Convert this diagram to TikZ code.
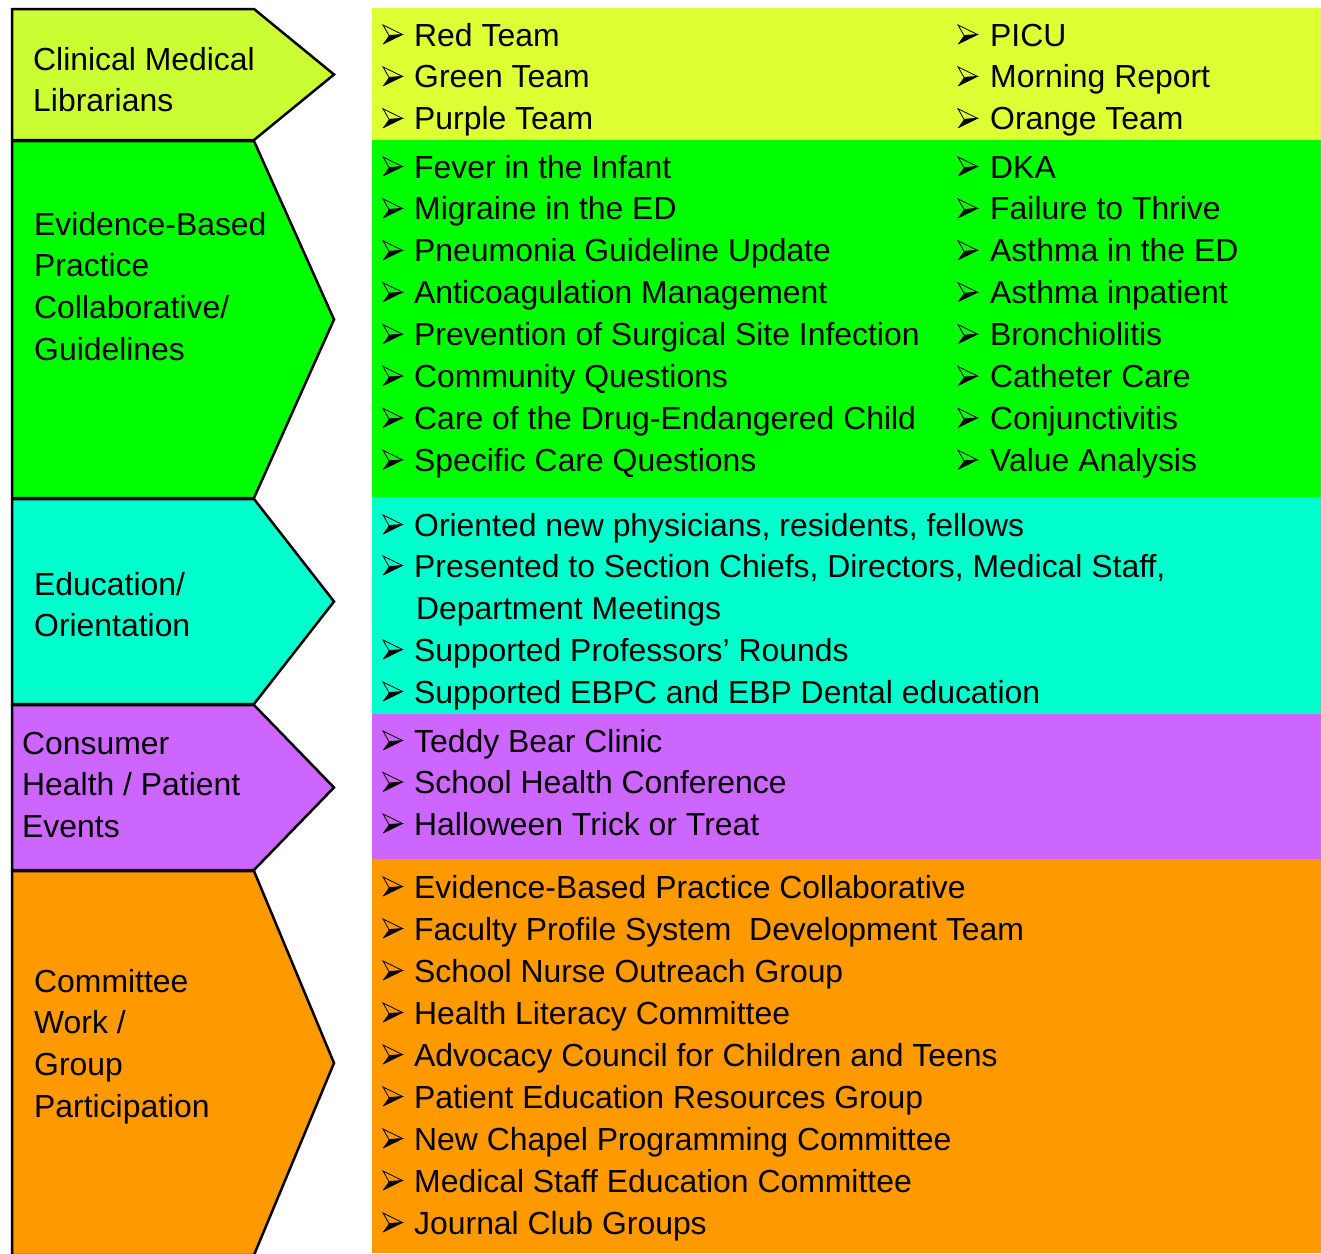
\documentclass[tikz,border=0pt]{standalone}
\usepackage{fontspec}
\setmainfont{Liberation Sans}
\usetikzlibrary{positioning}
\definecolor{limechev}{HTML}{CCFF33}
\definecolor{limebox}{HTML}{DDFF33}
\definecolor{grn}{HTML}{00FF00}
\definecolor{aqua}{HTML}{00FFCC}
\definecolor{lilac}{HTML}{CC66FF}
\definecolor{amber}{HTML}{FF9900}
\newcommand{\lblfont}{\fontsize{31.9}{42}\selectfont}

\begin{document}
\begin{tikzpicture}[x=1pt,y=-1pt,
    chev/.style={draw=black,line width=2.5pt,line join=miter},
    lbl/.style={anchor=base west,inner sep=0pt,font=\lblfont},
    item/.style={anchor=base west,inner sep=0pt,font=\lblfont},
    arrowhd/.pic={
      \fill (0,9.5) -- (19.5,0) -- (6,1) -- cycle;
      \draw[line width=0.8pt,line join=miter] (0,-9.5) -- (19.5,0) -- (6,1) -- cycle;
      \draw[line width=0.8pt,line join=miter] (0,9.5) -- (19.5,0);}]
  \useasboundingbox (0,0) rectangle (1321,1253);
  % chevrons on the left
  \foreach \top/\bot/\col in {9/140/limechev,141/498/grn,499/704/aqua,705/870/lilac,871/1255/amber}
    \draw[chev,fill=\col] (12,\top) -- (254,\top) -- (334,{(\top+\bot)/2})
      -- (254,\bot) -- (12,\bot) -- cycle;
  % panels on the right
  \fill[limebox] (372,8) rectangle (1321,140);
  \fill[grn] (372,140) rectangle (1321,497);
  \fill[aqua] (372,497) rectangle (1321,714);
  \fill[lilac] (372,714) rectangle (1321,859);
  \fill[amber] (372,859) rectangle (1321,1253);
  % chevron labels
  \foreach \t [count=\i] in {Clinical Medical,Librarians}
    \node[lbl] (cml\i) at (33,{70+41*(\i-1)}) {\t};
  \foreach \t [count=\i] in {Evidence-Based,Practice,Collaborative/,Guidelines}
    \node[lbl] (ebp\i) at (34,{235+41.9*(\i-1)}) {\t};
  \foreach \t [count=\i] in {Education/,Orientation}
    \node[lbl] (edu\i) at (34,{595+41.9*(\i-1)}) {\t};
  \foreach \t [count=\i] in {Consumer,Health / Patient,Events}
    \node[lbl] (chp\i) at (22,{754+41.9*(\i-1)}) {\t};
  \foreach \t [count=\i] in {Committee,Work /,Group,Participation}
    \node[lbl] (cwg\i) at (34,{992+41.9*(\i-1)}) {\t};
  % panel items, each with its arrowhead bullet
  \foreach \t [count=\i] in {Red Team,Green Team,Purple Team}{
    \node[item] (pa\i) at (414,{46+41.9*(\i-1)}) {\t};
    \pic at ([xshift=-31pt,yshift=11.5pt]pa\i.base west) {arrowhd};}
  \foreach \t [count=\i] in {PICU,Morning Report,Orange Team}{
    \node[item] (pb\i) at (990,{46+41.9*(\i-1)}) {\t};
    \pic at ([xshift=-32pt,yshift=11.5pt]pb\i.base west) {arrowhd};}
  \foreach \t [count=\i] in {Fever in the Infant,Migraine in the ED,Pneumonia Guideline Update,
      Anticoagulation Management,Prevention of Surgical Site Infection,Community Questions,
      Care of the Drug-Endangered Child,Specific Care Questions}{
    \node[item] (qa\i) at (414,{178+41.9*(\i-1)}) {\t};
    \pic at ([xshift=-31pt,yshift=11.5pt]qa\i.base west) {arrowhd};}
  \foreach \t [count=\i] in {DKA,Failure to Thrive,Asthma in the ED,Asthma inpatient,
      Bronchiolitis,Catheter Care,Conjunctivitis,Value Analysis}{
    \node[item] (qb\i) at (990,{178+41.9*(\i-1)}) {\t};
    \pic at ([xshift=-32pt,yshift=11.5pt]qb\i.base west) {arrowhd};}
  \foreach \t/\y [count=\i] in {{Oriented new physicians, residents, fellows}/536,
      {Presented to Section Chiefs, Directors, Medical Staff,}/577,
      {Supported Professors’ Rounds}/661,{Supported EBPC and EBP Dental education}/703}{
    \node[item] (ra\i) at (414,\y) {\t};
    \pic at ([xshift=-31pt,yshift=11.5pt]ra\i.base west) {arrowhd};}
  \node[item] (rcont) at (416,619) {Department Meetings};
  \foreach \t [count=\i] in {Teddy Bear Clinic,School Health Conference,Halloween Trick or Treat}{
    \node[item] (sa\i) at (414,{752+41.5*(\i-1)}) {\t};
    \pic at ([xshift=-31pt,yshift=11.5pt]sa\i.base west) {arrowhd};}
  \foreach \t [count=\i] in {Evidence-Based Practice Collaborative,Faculty Profile System~ Development Team,
      School Nurse Outreach Group,Health Literacy Committee,Advocacy Council for Children and Teens,
      Patient Education Resources Group,New Chapel Programming Committee,
      Medical Staff Education Committee,Journal Club Groups}{
    \node[item] (ta\i) at (414,{898+42*(\i-1)}) {\t};
    \pic at ([xshift=-31pt,yshift=11.5pt]ta\i.base west) {arrowhd};}
\end{tikzpicture}
\end{document}
